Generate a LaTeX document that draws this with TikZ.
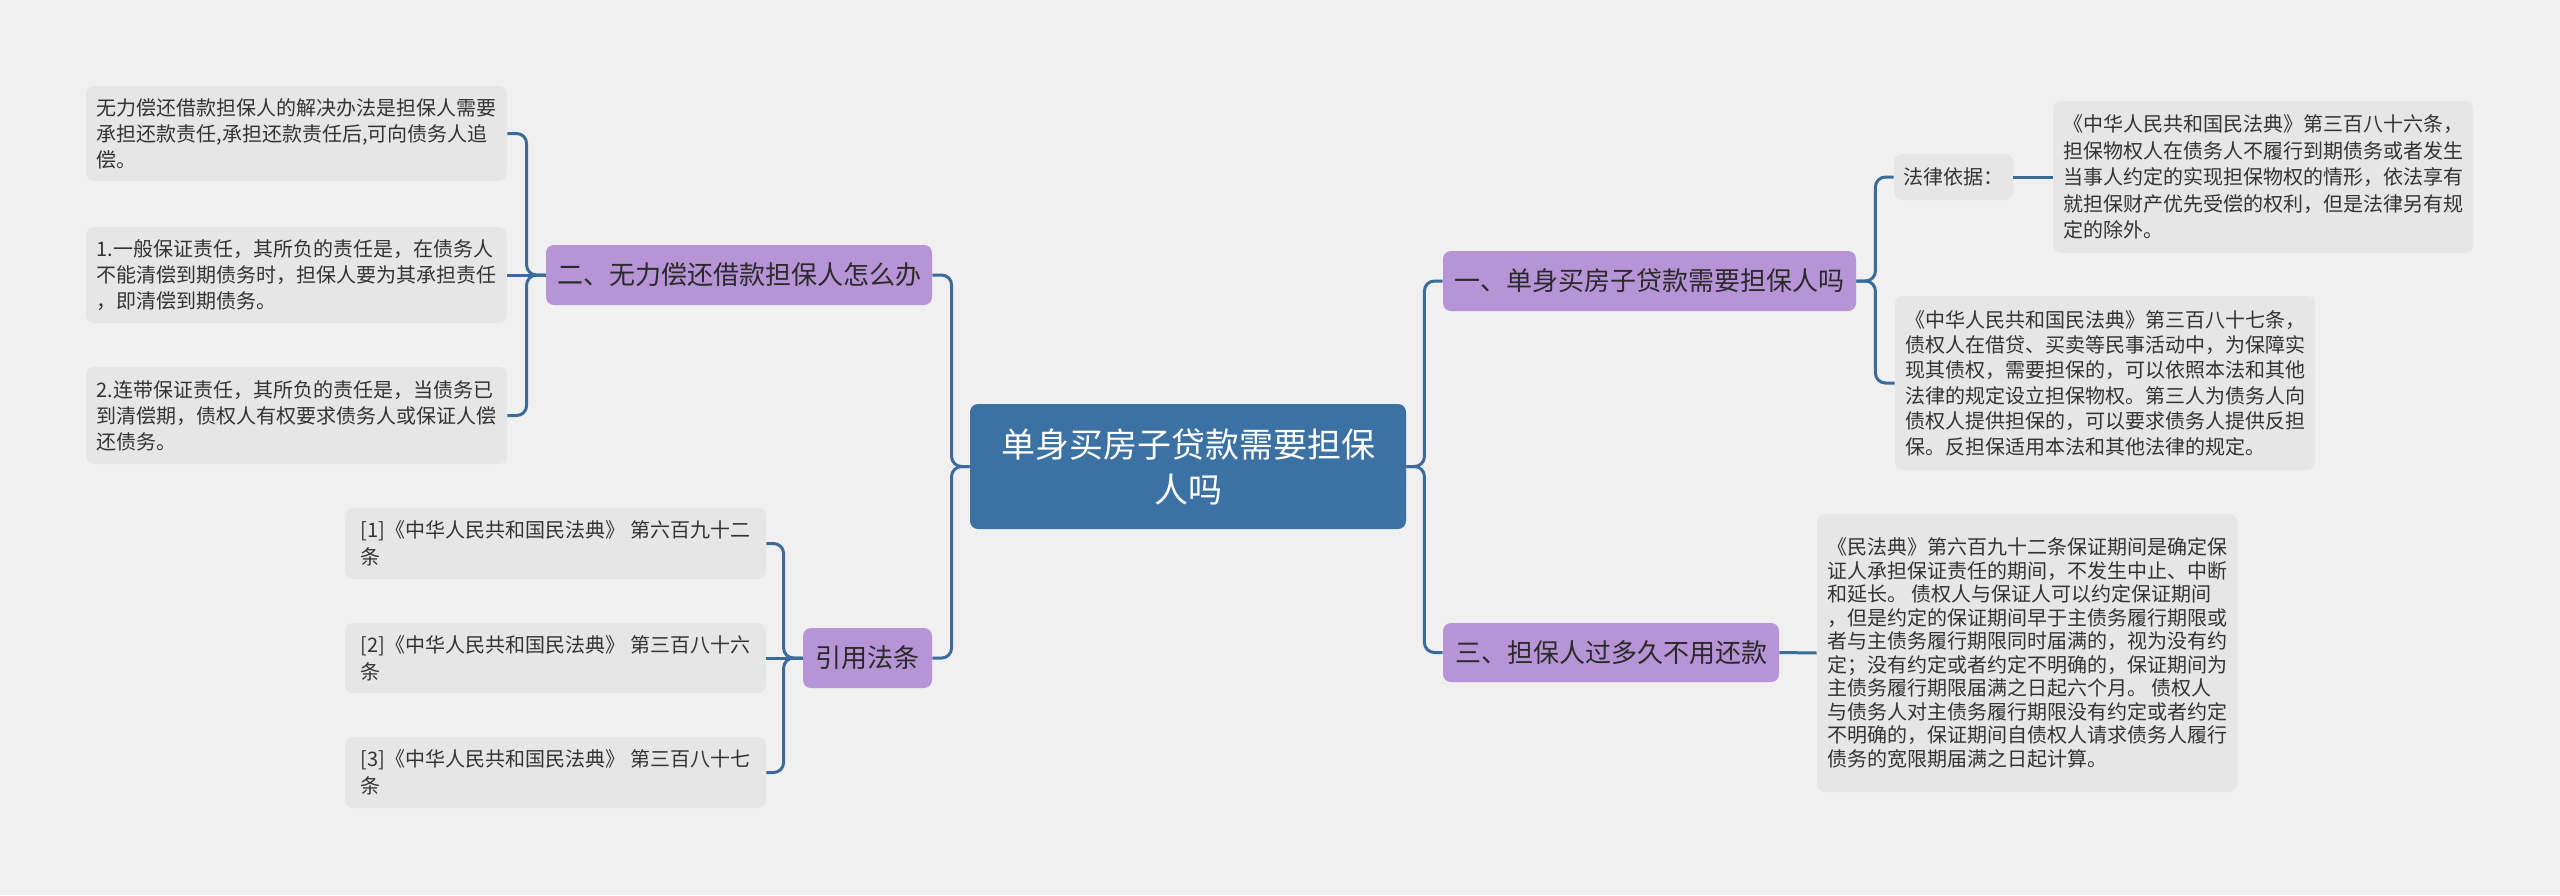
\documentclass[tikz,border=0pt]{standalone}
\usepackage{fontspec}
\newfontfamily\cjk{Noto Sans CJK SC}
\definecolor{bgc}{HTML}{F0F0F0}
\definecolor{leafc}{HTML}{E6E6E6}
\definecolor{purc}{HTML}{B794D6}
\definecolor{rootc}{HTML}{3C71A4}
\definecolor{linec}{HTML}{3A6B9A}
\definecolor{txtc}{HTML}{333333}
\definecolor{btxt}{HTML}{2A2A2A}
\begin{document}
\begin{tikzpicture}[x=0.5pt,y=-0.5pt,
  conn/.style={draw=linec, line width=1.5pt, rounded corners=5pt},
  box/.style={inner sep=0pt, rounded corners=4pt, align=left},
  leaf/.style={box, fill=leafc, text=txtc, font={\cjk\fontsize{10pt}{13pt}\selectfont}},
  branch/.style={box, align=center, fill=purc, text=btxt, font={\cjk\fontsize{13pt}{16pt}\selectfont}},
  root/.style={box, align=center, fill=rootc, text=white, font={\cjk\fontsize{17pt}{22.5pt}\selectfont}},
]
\fill[bgc] (0,0) rectangle (2560,895);
\useasboundingbox (0,0) rectangle (2560,895);

% root
\node[root, minimum width=218pt, minimum height=62.5pt] (c) at (1188,466.5) {单身买房子贷款需要担保\\人吗};

% branches
\node[branch, minimum width=193pt, minimum height=30pt] (b2) at (739,275) {二、无力偿还借款担保人怎么办};
\node[branch, minimum width=64.5pt, minimum height=30pt] (b4) at (867.5,658) {引用法条};
\node[branch, minimum width=206.5pt, minimum height=30pt] (b1) at (1649.5,281) {一、单身买房子贷款需要担保人吗};
\node[branch, minimum width=168pt, minimum height=29.5pt] (b3) at (1611,652.5) {三、担保人过多久不用还款};

% left leaves
\node[leaf, minimum width=210.5pt, minimum height=47.5pt] (l1) at (296.5,133.5) {无力偿还借款担保人的解决办法是担保人需要\\承担还款责任,承担还款责任后,可向债务人追\\偿。};
\node[leaf, minimum width=210.5pt, minimum height=48pt] (l2) at (296.5,275) {1.一般保证责任，其所负的责任是，在债务人\\不能清偿到期债务时，担保人要为其承担责任\\，即清偿到期债务。};
\node[leaf, minimum width=210.5pt, minimum height=48.5pt] (l3) at (296.5,415.5) {2.连带保证责任，其所负的责任是，当债务已\\到清偿期，债权人有权要求债务人或保证人偿\\还债务。};

\node[leaf, minimum width=210.5pt, minimum height=35.5pt, font={\cjk\fontsize{10pt}{13.5pt}\selectfont}] (r1) at (555.5,543.5) {[1]《中华人民共和国民法典》 第六百九十二\\条};
\node[leaf, minimum width=210.5pt, minimum height=35pt, font={\cjk\fontsize{10pt}{13.5pt}\selectfont}] (r2) at (555.5,658) {[2]《中华人民共和国民法典》 第三百八十六\\条};
\node[leaf, minimum width=210.5pt, minimum height=35.5pt, font={\cjk\fontsize{10pt}{13.5pt}\selectfont}] (r3) at (555.5,772.5) {[3]《中华人民共和国民法典》 第三百八十七\\条};

% right leaves
\node[leaf, minimum width=59.5pt, minimum height=23pt] (law) at (1953.5,177) {法律依据：};
\node[leaf, minimum width=210pt, minimum height=76pt, font={\cjk\fontsize{10pt}{13.25pt}\selectfont}] (tA) at (2263,177) {《中华人民共和国民法典》第三百八十六条，\\担保物权人在债务人不履行到期债务或者发生\\当事人约定的实现担保物权的情形，依法享有\\就担保财产优先受偿的权利，但是法律另有规\\定的除外。};
\node[leaf, minimum width=210pt, minimum height=87pt, font={\cjk\fontsize{10pt}{12.7pt}\selectfont}] (tB) at (2105,383) {《中华人民共和国民法典》第三百八十七条，\\债权人在借贷、买卖等民事活动中，为保障实\\现其债权，需要担保的，可以依照本法和其他\\法律的规定设立担保物权。第三人为债务人向\\债权人提供担保的，可以要求债务人提供反担\\保。反担保适用本法和其他法律的规定。};
\node[leaf, minimum width=210pt, minimum height=139pt, font={\cjk\fontsize{10pt}{11.75pt}\selectfont}] (tC) at (2027,653) {《民法典》第六百九十二条保证期间是确定保\\证人承担保证责任的期间，不发生中止、中断\\和延长。 债权人与保证人可以约定保证期间\\，但是约定的保证期间早于主债务履行期限或\\者与主债务履行期限同时届满的，视为没有约\\定；没有约定或者约定不明确的，保证期间为\\主债务履行期限届满之日起六个月。 债权人\\与债务人对主债务履行期限没有约定或者约定\\不明确的，保证期间自债权人请求债务人履行\\债务的宽限期届满之日起计算。};

% connectors: root
\draw[conn] (c.east) -- ++(18,0) |- (b1.west);
\draw[conn] (c.east) -- ++(18,0) |- (b3.west);
\draw[conn] (c.west) -- ++(-18,0) |- (b2.east);
\draw[conn] (c.west) -- ++(-18,0) |- (b4.east);

% branch 2
\draw[conn] (b2.west) -- ++(-19,0) |- (l1.east);
\draw[conn] (b2.west) -- (l2.east);
\draw[conn] (b2.west) -- ++(-19,0) |- (l3.east);

% branch 4
\draw[conn] (b4.west) -- ++(-19,0) |- (r1.east);
\draw[conn] (b4.west) -- (r2.east);
\draw[conn] (b4.west) -- ++(-19,0) |- (r3.east);

% branch 1
\draw[conn] (b1.east) -- ++(19,0) |- (law.west);
\draw[conn] (b1.east) -- ++(19,0) |- (tB.west);
\draw[conn] (law.east) -- (tA.west);

% branch 3
\draw[conn] (b3.east) -- (tC.west);
\end{tikzpicture}
\end{document}
